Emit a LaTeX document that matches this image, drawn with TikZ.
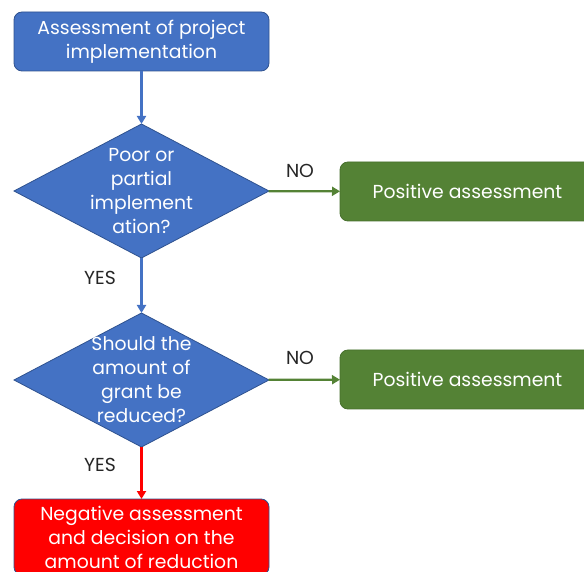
\documentclass[tikz,border=0pt]{standalone}
\usepackage{fontspec}
\setmainfont{Poppins}
\usetikzlibrary{shapes.geometric,arrows.meta}

\definecolor{boxblue}{HTML}{4472C4}
\definecolor{edgeblue}{HTML}{2F528F}
\definecolor{boxgreen}{HTML}{548235}
\definecolor{edgegreen}{HTML}{466F2C}
\definecolor{boxred}{HTML}{FF0000}
\definecolor{labelgrey}{HTML}{262626}

\tikzset{
  flowbox/.style={draw, rounded corners=4pt, minimum width=127.5pt,
    minimum height=29.5pt, inner sep=0pt, outer sep=0pt, align=center,
    text=white},
  decision/.style={diamond, draw=edgeblue, fill=boxblue, minimum width=127.5pt,
    minimum height=67pt, inner sep=0pt, outer sep=0pt},
  decisiontext/.style={align=center, text=white, inner sep=0pt},
  flowarrow/.style={line width=1.1pt, -{Triangle[length=4pt,width=4.5pt]}},
  tag/.style={text=labelgrey, inner sep=0pt}
}

\begin{document}
\begin{tikzpicture}[x=0.5pt, y=-0.5pt, font=\fontsize{9.4}{12}\selectfont]
  \useasboundingbox (0,0) rectangle (584,572);
  \clip (0,0) rectangle (584,572);

  % boxes and decisions
  \node[flowbox, draw=edgeblue, fill=boxblue] (assess) at (141.5,41.5)
    {Assessment of project\\implementation};
  \node[decision] (poor) at (141.5,191) {};
  \node[decisiontext] (poortext) at (poor.center)
    {Poor or\\partial\\implement\\ation?};
  \node[flowbox, draw=edgegreen, fill=boxgreen] (positiveA) at (467.5,191.5)
    {Positive assessment};

  \node[decision] (reduce) at (141.5,380) {};
  \node[decisiontext] (reducetext) at (reduce.center)
    {Should the\\amount of\\grant be\\reduced?};
  \node[flowbox, draw=edgegreen, fill=boxgreen] (positiveB) at (467.5,379.5)
    {Positive assessment};

  \node[flowbox, draw=edgeblue, fill=boxred, minimum height=38pt] (negative)
    at (141.5,537) {Negative assessment\\and decision on the\\amount of reduction};

  % connectors
  \draw[flowarrow, boxblue] (assess) -- (poor);
  \draw[flowarrow, boxgreen] (poor) -- (positiveA);
  \draw[flowarrow, boxblue] (poor) -- (reduce);
  \draw[flowarrow, boxgreen] (reduce) -- (positiveB);
  \draw[flowarrow, boxred] (reduce) -- (negative);

  \node[tag] (noA) at (300,171) {NO};
  \node[tag] (yesA) at (100,278) {YES};
  \node[tag] (noB) at (300,358) {NO};
  \node[tag] (yesB) at (100,465) {YES};
\end{tikzpicture}
\end{document}
